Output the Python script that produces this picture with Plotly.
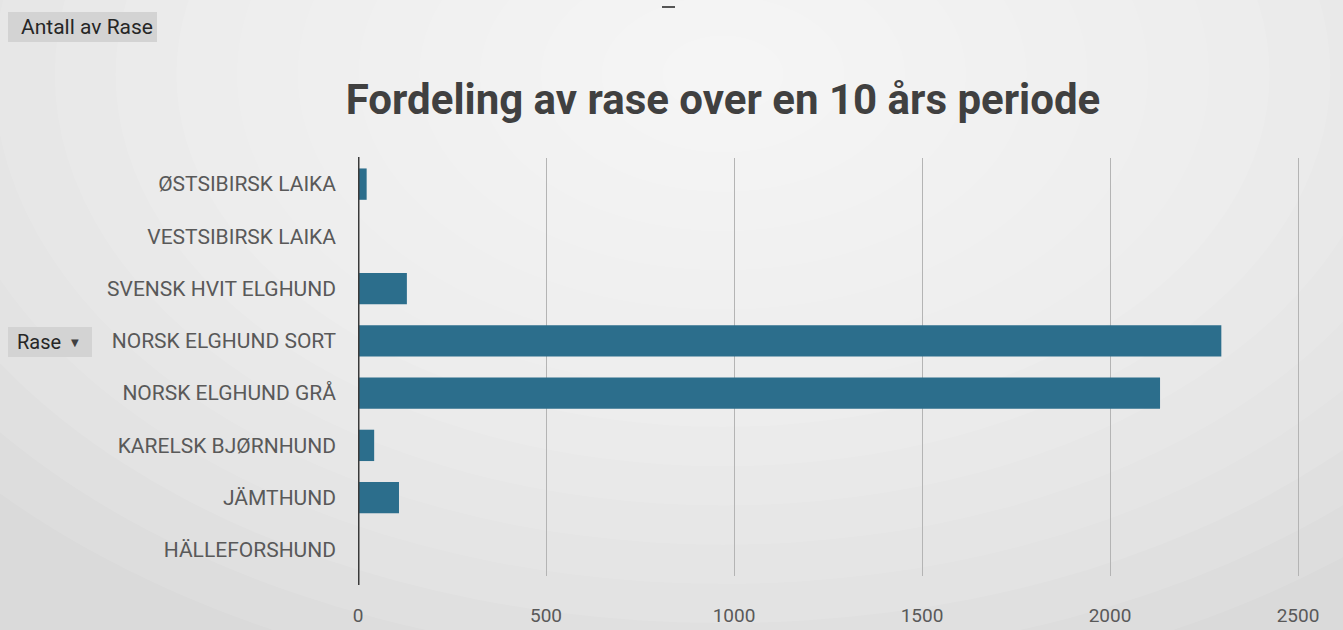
import plotly.graph_objects as go

categories = ["HÄLLEFORSHUND", "JÄMTHUND", "KARELSK BJØRNHUND", "NORSK ELGHUND GRÅ",
              "NORSK ELGHUND SORT", "SVENSK HVIT ELGHUND", "VESTSIBIRSK LAIKA", "ØSTSIBIRSK LAIKA"]
counts = [0, 109, 43, 2133, 2296, 130, 0, 23]
x_ticks = [0, 500, 1000, 1500, 2000, 2500]

W, H = 1343, 630
L, R, T, B = 358, 13, 158, 54
PW, PH = W - L - R, H - T - B


def px(x):
    return (x - L) / PW


def py(y):
    return (H - B - y) / PH


fig = go.Figure()
fig.add_trace(go.Bar(
    y=categories, x=counts, orientation="h",
    marker=dict(color="#2c6e8c", line=dict(width=0)),
    hoverinfo="x+y",
))

# soft background gradient (lighter at the top centre)
shapes = []
steps = 16
for i in range(steps):
    f = i / steps
    shapes.append(dict(type="circle", xref="paper", yref="paper", layer="below",
                       x0=px(723) - 1.0 * (1 - f), x1=px(723) + 1.0 * (1 - f),
                       y0=1.2 - 1.5 * (1 - f), y1=1.2 + 1.5 * (1 - f),
                       fillcolor="white", opacity=0.1, line=dict(width=0)))
# buttons
shapes.append(dict(type="rect", xref="paper", yref="paper", layer="below",
                   x0=px(8), x1=px(157), y0=py(42), y1=py(12),
                   fillcolor="#d3d3d3", line=dict(width=0)))
shapes.append(dict(type="rect", xref="paper", yref="paper", layer="below",
                   x0=px(8), x1=px(92), y0=py(357), y1=py(327),
                   fillcolor="#d3d3d3", line=dict(width=0)))
# vertical axis line
shapes.append(dict(type="line", xref="x", yref="paper", x0=0, x1=0, y0=py(585), y1=py(157),
                   line=dict(color="#3a3a3a", width=3)))
# small mark at top
shapes.append(dict(type="line", xref="paper", yref="paper",
                   x0=px(662), x1=px(675), y0=py(7), y1=py(7),
                   line=dict(color="#555555", width=2)))

fig.update_layout(
    width=W, height=H,
    margin=dict(l=L, r=R, t=T, b=B),
    paper_bgcolor="#dadada",
    plot_bgcolor="rgba(0,0,0,0)",
    bargap=0.4,
    showlegend=False,
    shapes=shapes,
    title=dict(text="<b>Fordeling av rase over en 10 års periode</b>",
               x=723 / W, xanchor="center", y=1 - 99 / H, yanchor="middle",
               font=dict(family="Roboto", size=42, color="#404040")),
    xaxis=dict(range=[0, 2585], tickvals=x_ticks, showgrid=True, gridcolor="#b4b4b4",
               gridwidth=1, zeroline=False, showline=False, automargin=False,
               tickfont=dict(family="Roboto", size=19, color="#595959"),
               ticklabelstandoff=26, fixedrange=True),
    yaxis=dict(categoryorder="array", categoryarray=categories, showgrid=False,
               zeroline=False, showline=False, automargin=False,
               tickfont=dict(family="Roboto", size=21, color="#595959"),
               ticklabelstandoff=21, fixedrange=True),
    annotations=[
        dict(text="Antall av Rase", xref="paper", yref="paper",
             x=px(19), y=py(27), xanchor="left", yanchor="middle", showarrow=False,
             font=dict(family="Roboto", size=21, color="#262626")),
        dict(text="Rase", xref="paper", yref="paper",
             x=px(15), y=py(342), xanchor="left", yanchor="middle", showarrow=False,
             font=dict(family="Roboto", size=20, color="#262626")),
        dict(text="▼", xref="paper", yref="paper",
             x=px(75), y=py(342), xanchor="center", yanchor="middle", showarrow=False,
             font=dict(family="DejaVu Sans", size=10, color="#404040")),
    ],
)

fig.write_html("out.html", config={"displayModeBar": False},
               post_script="document.body.style.margin='0';document.body.style.overflow='hidden';")
